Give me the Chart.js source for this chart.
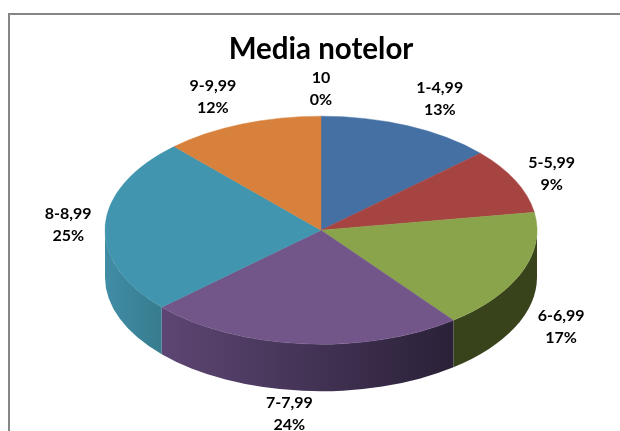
<!DOCTYPE html>
<html>
<head>
<meta charset="utf-8">
<title>Media notelor</title>
<script src="https://cdn.jsdelivr.net/npm/chart.js@4"></script>
<style>
  html, body { margin: 0; padding: 0; background: #fff; overflow: hidden; }
  #wrap { width: 620px; height: 431px; }
</style>
</head>
<body>
<div id="wrap"><canvas id="chart" width="620" height="431"></canvas></div>
<script>
const titleText  = 'Media notelor';
const categories = ['1-4,99', '5-5,99', '6-6,99', '7-7,99', '8-8,99', '9-9,99', '10'];
const shares     = [13.2, 9.3, 17.0, 23.7, 24.9, 11.9, 0];

const topColors  = ['#4570a4', '#a54441', '#8aa44c', '#725689', '#4195ae', '#d8813c', '#d8813c'];
// left / right end of the side wall shading
const sideColors = [
  ['#2e4b6e', '#2e4b6e'], ['#6e2d2b', '#6e2d2b'], ['#38431c', '#38431c'],
  ['#5d4673', '#2a2138'], ['#408da6', '#377c8e'], ['#8f5527', '#8f5527'], ['#8f5527', '#8f5527'],
];
// fine adjustment of each label around its slice direction
const labelNudge = [[16, -3], [1, 4], [3, -2], [-10, -3], [2, 0], [-15, -3], [0, -1]];

const TILT = 0.528;     // vertical squash of the pie
const DEPTH = 47;       // height of the side wall
const LABEL_RX = 255;
const LABEL_RY = 140;
const LABEL_FONT = 'bold 16px Lato, sans-serif';

// ── Side wall + squash ────────────────────────────────────────────────
const tiltedPie = {
  id: 'tiltedPie',
  beforeDatasetsDraw(chart) {
    const { ctx } = chart;
    const arcs = chart.getDatasetMeta(0).data;
    arcs.forEach((arc, i) => {
      const { x, y, startAngle, endAngle, outerRadius } = arc.getProps(['x', 'y', 'startAngle', 'endAngle', 'outerRadius']);
      const a = Math.max(startAngle, 0);
      const b = Math.min(endAngle, Math.PI);
      if (b <= a) return;
      const ry = outerRadius * TILT;
      const xa = x + outerRadius * Math.cos(a);
      const xb = x + outerRadius * Math.cos(b);
      const grad = ctx.createLinearGradient(Math.min(xa, xb), 0, Math.max(xa, xb), 0);
      grad.addColorStop(0, sideColors[i][0]);
      grad.addColorStop(1, sideColors[i][1]);
      ctx.beginPath();
      ctx.ellipse(x, y, outerRadius, ry, 0, a, b);
      ctx.ellipse(x, y + DEPTH, outerRadius, ry, 0, b, a, true);
      ctx.closePath();
      ctx.fillStyle = grad;
      ctx.fill();
    });
    const { x, y } = arcs[0].getProps(['x', 'y']);
    ctx.save();
    ctx.translate(x, y);
    ctx.scale(1, TILT);
    ctx.translate(-x, -y);
  },
  afterDatasetsDraw(chart) {
    chart.ctx.restore();
  },
};

// ── Frame (only top and left are visible in the crop) ─────────────────
const frame = {
  id: 'frame',
  beforeDraw(chart) {
    const { ctx, width, height } = chart;
    ctx.save();
    ctx.strokeStyle = '#868686';
    ctx.lineWidth = 2;
    ctx.beginPath();
    ctx.moveTo(9, height);
    ctx.lineTo(9, 14);
    ctx.lineTo(width, 14);
    ctx.stroke();
    ctx.restore();
  },
};

// ── Category + percent labels ─────────────────────────────────────────
const sliceLabels = {
  id: 'sliceLabels',
  afterDraw(chart) {
    const { ctx } = chart;
    ctx.save();
    ctx.font = LABEL_FONT;
    ctx.fillStyle = '#000';
    ctx.textAlign = 'center';
    ctx.textBaseline = 'middle';
    chart.getDatasetMeta(0).data.forEach((arc, i) => {
      const { x, y, startAngle, endAngle } = arc.getProps(['x', 'y', 'startAngle', 'endAngle']);
      const mid = (startAngle + endAngle) / 2;
      const sinM = Math.sin(mid);
      const lx = x + LABEL_RX * Math.cos(mid) + labelNudge[i][0];
      const ly = y + LABEL_RY * sinM + (sinM > 0 ? DEPTH : 0) + labelNudge[i][1];
      ctx.fillText(categories[i], lx, ly - 11);
      ctx.fillText(Math.round(shares[i]) + '%', lx, ly + 11);
    });
    ctx.restore();
  },
};

new Chart(document.getElementById('chart'), {
  type: 'pie',
  data: {
    labels: categories,
    datasets: [{
      data: shares,
      backgroundColor: topColors,
      borderColor: topColors,
      borderWidth: 0.6,
      clip: false,
    }],
  },
  options: {
    responsive: false,
    animation: false,
    events: [],
    radius: 216,
    layout: { padding: { left: 22, bottom: 38 } },
    plugins: {
      legend: { display: false },
      tooltip: { enabled: false },
      title: {
        display: true,
        text: titleText,
        fullSize: false,
        color: '#000',
        font: { family: 'Lato, sans-serif', size: 29.5, weight: 'bold' },
        padding: { top: 32, bottom: 0 },
      },
    },
  },
  plugins: [frame, tiltedPie, sliceLabels],
});
</script>
</body>
</html>
